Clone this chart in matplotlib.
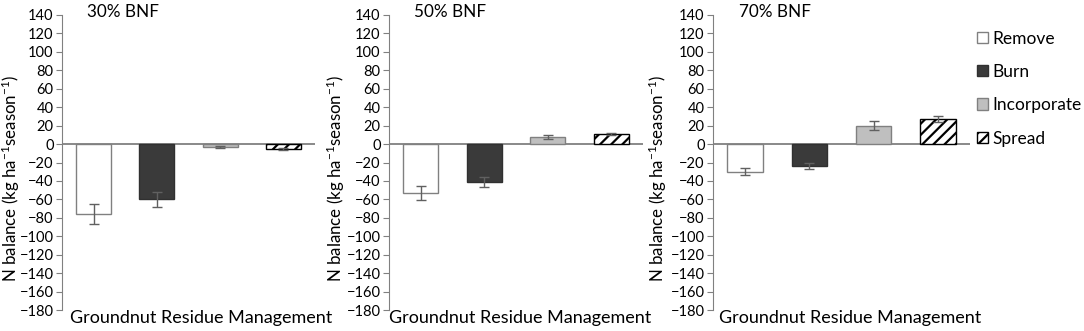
import matplotlib
matplotlib.use("Agg")
import matplotlib.pyplot as plt
import numpy as np

plt.rcParams['font.family'] = ['Lato', 'DejaVu Sans']
plt.rcParams['mathtext.fontset'] = 'custom'
plt.rcParams['mathtext.rm'] = 'Lato'
plt.rcParams['mathtext.default'] = 'regular'
plt.rcParams['hatch.linewidth'] = 1.6

treatments = ["Remove", "Burn", "Incorporate", "Spread"]
panels = ["30% BNF", "50% BNF", "70% BNF"]
# N balance means and errors per panel (Remove, Burn, Incorporate, Spread)
means = [
    [-76, -60, -3, -5],
    [-53, -41, 8, 11],
    [-30, -24, 20, 27],
]
errors = [
    [11, 8, 1, 1],
    [8, 5.5, 2, 1],
    [4, 3, 5, 3.5],
]

faces = ["white", "#3a3a3a", "#bfbfbf", "white"]
edges = ["#808080", "#303030", "#808080", "black"]
hatches = [None, None, None, "///"]
grey = "#808080"

W, H = 1084, 331
fig = plt.figure(figsize=(W / 100, H / 100), dpi=100)
lefts = [62, 389, 713]
widths = [253, 254, 257]
ylab_x = [22, 347, 669]
xlab_c = [201, 520, 850]
top, bottom = 15, 310

bars_for_legend = None
for k in range(3):
    ax = fig.add_axes([lefts[k] / W, 1 - bottom / H, widths[k] / W, (bottom - top) / H])
    x = np.arange(len(treatments))
    bars = ax.bar(x, means[k], width=0.55, color=faces, edgecolor=edges, linewidth=1.0, zorder=2)
    for b, h in zip(bars, hatches):
        if h:
            b.set_hatch(h)
    ax.errorbar(x, means[k], yerr=errors[k], fmt="none", ecolor="#606060",
                elinewidth=1.0, capsize=3.5, capthick=1.0, zorder=3)
    ax.axhline(0, color=grey, linewidth=1.3, zorder=1)
    ax.set_xlim(-0.5, 3.5)
    ax.set_ylim(-180, 140)
    ax.set_yticks(np.arange(-180, 141, 20))
    ax.set_xticks([])
    for s in ["top", "right", "bottom"]:
        ax.spines[s].set_visible(False)
    ax.spines["left"].set_color(grey)
    ax.tick_params(axis="y", colors=grey, labelcolor="black", labelsize=10.5, length=4.5, pad=1.5)
    ax.set_ylabel("N balance (kg ha$^{-1}$season$^{-1}$)", fontsize=12.2)
    ax.yaxis.set_label_coords((ylab_x[k] - lefts[k]) / widths[k], 0.447)
    ax.set_xlabel("Groundnut Residue Management", fontsize=13)
    ax.xaxis.set_label_coords((xlab_c[k] - lefts[k]) / widths[k], 0.0)
    ax.text(0.1, 1.01, panels[k], transform=ax.transAxes, fontsize=12.3, va="center", ha="left")
    bars_for_legend = bars

fig.legend(bars_for_legend, treatments, loc="upper left", bbox_to_anchor=(977 / W, 1 - 30.5 / H),
           frameon=False, fontsize=12.5, handlelength=0.63, handleheight=0.63,
           handletextpad=0.23, labelspacing=1.0, borderpad=0, borderaxespad=0)

fig.savefig("out.png", dpi=100)
